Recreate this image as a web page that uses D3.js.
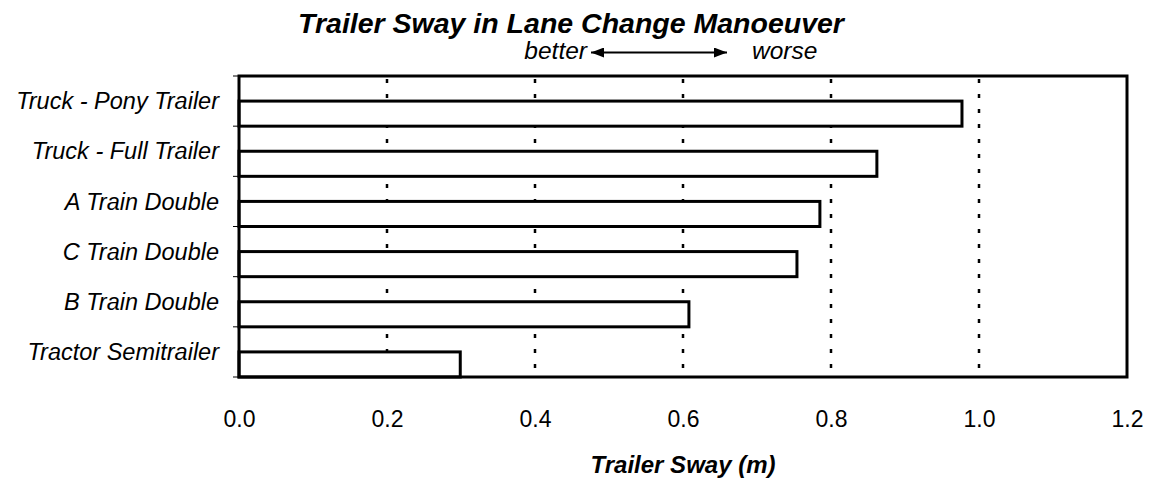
<!DOCTYPE html>
<html lang="en">
<head>
    <meta charset="UTF-8">
    <title>Trailer Sway in Lane Change Manoeuver</title>
    <script src="https://d3js.org/d3.v7.min.js"></script>
    <style>
        body {
            margin: 0;
            background: #fff;
            font-family: "Liberation Sans", Arial, sans-serif;
        }
        svg text {
            fill: #000;
        }
        .grid-line {
            stroke: #000;
            stroke-width: 2.5;
            stroke-dasharray: 4 11;
        }
        .bar {
            fill: #fff;
            stroke: #000;
            stroke-width: 3;
        }
    </style>
</head>
<body>
    <svg id="chart" width="1151" height="484"></svg>

    <script>
        // Data
        const categories = [
            "Truck - Pony Trailer",
            "Truck - Full Trailer",
            "A Train Double",
            "C Train Double",
            "B Train Double",
            "Tractor Semitrailer"
        ];
        const sway = [0.977, 0.862, 0.785, 0.754, 0.608, 0.299];
        const xTicks = [0, 0.2, 0.4, 0.6, 0.8, 1.0, 1.2];
        const gridValues = [0.2, 0.4, 0.6, 0.8, 1.0];

        const svg = d3.select("#chart");
        const margin = { left: 239, top: 76, right: 24, bottom: 107 };
        const width = 1151 - margin.left - margin.right;
        const height = 484 - margin.top - margin.bottom;

        const x = d3.scaleLinear().domain([0, 1.2]).range([0, width]);
        const y = d3.scaleBand().domain(categories).range([0, height]).padding(0);

        const g = svg.append("g")
            .attr("transform", `translate(${margin.left},${margin.top})`);

        // dotted vertical gridlines
        g.selectAll(".grid-line")
            .data(gridValues)
            .enter()
            .append("line")
            .attr("class", "grid-line")
            .attr("x1", d => x(d))
            .attr("x2", d => x(d))
            .attr("y1", 3)
            .attr("y2", height);

        // bars sit in the lower half of each band
        const bw = y.bandwidth();
        g.selectAll(".bar")
            .data(sway)
            .enter()
            .append("rect")
            .attr("class", "bar")
            .attr("x", 0)
            .attr("y", (d, i) => y(categories[i]) + bw / 2)
            .attr("width", d => x(d))
            .attr("height", bw / 2);

        // frame
        g.append("rect")
            .attr("x", 0)
            .attr("y", 0)
            .attr("width", width)
            .attr("height", height)
            .attr("fill", "none")
            .attr("stroke", "#000")
            .attr("stroke-width", 3);

        // left tick marks at band boundaries
        const boundaries = categories.map(c => y(c)).concat([height]);
        g.selectAll(".ytick")
            .data(boundaries)
            .enter()
            .append("line")
            .attr("x1", -6)
            .attr("x2", 0)
            .attr("y1", d => d)
            .attr("y2", d => d)
            .attr("stroke", "#000")
            .attr("stroke-width", 1);

        // category labels
        g.selectAll(".cat-label")
            .data(categories)
            .enter()
            .append("text")
            .attr("x", -20)
            .attr("y", d => y(d) + bw / 2)
            .attr("dy", "0.35em")
            .attr("text-anchor", "end")
            .style("font-size", "23.5px")
            .style("font-style", "italic")
            .text(d => d);

        // x axis labels
        const xAxis = d3.axisBottom(x)
            .tickValues(xTicks)
            .tickFormat(d3.format(".1f"))
            .tickSize(0)
            .tickPadding(34);
        const ax = g.append("g")
            .attr("transform", `translate(0,${height})`)
            .call(xAxis);
        ax.select(".domain").remove();
        ax.selectAll("text")
            .attr("dy", null)
            .attr("y", 50)
            .style("font-size", "23px")
            .style("font-family", "'Liberation Sans', Arial, sans-serif")
            .attr("fill", "#000");

        // axis title
        svg.append("text")
            .attr("x", margin.left + width / 2)
            .attr("y", 473)
            .attr("text-anchor", "middle")
            .style("font-size", "24px")
            .style("font-weight", "bold")
            .style("font-style", "italic")
            .text("Trailer Sway (m)");

        // chart title
        svg.append("text")
            .attr("x", 571)
            .attr("y", 33)
            .attr("text-anchor", "middle")
            .style("font-size", "28.5px")
            .style("font-weight", "bold")
            .style("font-style", "italic")
            .text("Trailer Sway in Lane Change Manoeuver");

        // better <-> worse annotation
        const defs = svg.append("defs");
        defs.append("marker")
            .attr("id", "head")
            .attr("viewBox", "0 0 10 10")
            .attr("refX", 10)
            .attr("refY", 5)
            .attr("markerWidth", 13)
            .attr("markerHeight", 10)
            .attr("markerUnits", "userSpaceOnUse")
            .attr("orient", "auto-start-reverse")
            .attr("preserveAspectRatio", "none")
            .append("path")
            .attr("d", "M 0 0 L 10 5 L 0 10 Z")
            .attr("fill", "#000");

        const ann = svg.append("g");
        ann.append("text")
            .attr("x", 587)
            .attr("y", 59)
            .attr("text-anchor", "end")
            .style("font-size", "24.5px")
            .style("font-style", "italic")
            .text("better");
        ann.append("line")
            .attr("x1", 591)
            .attr("x2", 727)
            .attr("y1", 52.5)
            .attr("y2", 52.5)
            .attr("stroke", "#000")
            .attr("stroke-width", 2)
            .attr("marker-start", "url(#head)")
            .attr("marker-end", "url(#head)");
        ann.append("text")
            .attr("x", 752)
            .attr("y", 59)
            .style("font-size", "24.5px")
            .style("font-style", "italic")
            .text("worse");
    </script>
</body>
</html>
